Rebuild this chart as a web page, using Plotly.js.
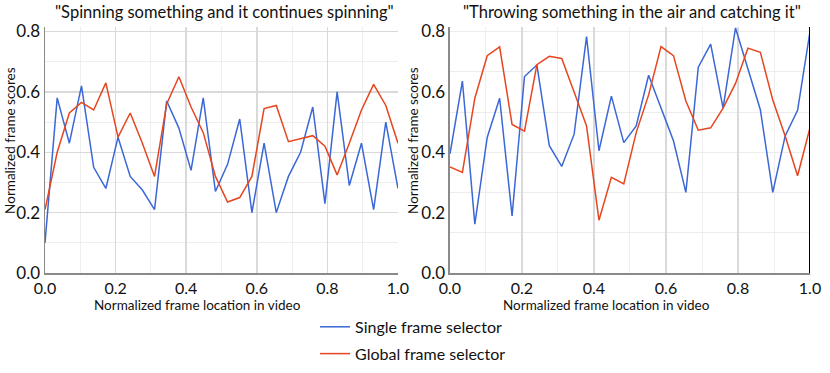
<!DOCTYPE html>
<html>
<head>
<meta charset="utf-8">
<script src="https://cdn.plot.ly/plotly-3.0.1.min.js"></script>
<style>
  html, body { margin: 0; padding: 0; background: #fff; }
  #chart { width: 830px; height: 373px; }
</style>
</head>
<body>
<div id="chart"></div>
<script>
// normalized frame positions (30 sampled frames)
const framePos = [0, 0.0345, 0.069, 0.1034, 0.1379, 0.1724, 0.2069, 0.2414, 0.2759, 0.3103,
                  0.3448, 0.3793, 0.4138, 0.4483, 0.4828, 0.5172, 0.5517, 0.5862, 0.6207, 0.6552,
                  0.6897, 0.7241, 0.7586, 0.7931, 0.8276, 0.8621, 0.8966, 0.931, 0.9655, 1];

// "Spinning something and it continues spinning"
const spinSingle = [0.10, 0.58, 0.43, 0.62, 0.35, 0.28, 0.45, 0.32, 0.275, 0.21,
                    0.57, 0.48, 0.34, 0.58, 0.27, 0.36, 0.51, 0.20, 0.43, 0.20,
                    0.32, 0.40, 0.55, 0.23, 0.60, 0.29, 0.43, 0.21, 0.50, 0.28];
const spinGlobal = [0.21, 0.40, 0.53, 0.565, 0.54, 0.63, 0.45, 0.53, 0.43, 0.32,
                    0.56, 0.65, 0.55, 0.465, 0.32, 0.235, 0.25, 0.32, 0.545, 0.555,
                    0.435, 0.445, 0.455, 0.42, 0.325, 0.43, 0.54, 0.625, 0.555, 0.43];

// "Throwing something in the air and catching it"
const throwSingle = [0.395, 0.636, 0.162, 0.449, 0.579, 0.189, 0.651, 0.689, 0.422, 0.353,
                     0.46, 0.783, 0.405, 0.586, 0.432, 0.487, 0.655, 0.546, 0.438, 0.267,
                     0.682, 0.758, 0.546, 0.812, 0.676, 0.541, 0.267, 0.454, 0.539, 0.80];
const throwGlobal = [0.351, 0.333, 0.579, 0.72, 0.749, 0.492, 0.47, 0.69, 0.718, 0.711,
                     0.60, 0.487, 0.175, 0.317, 0.295, 0.465, 0.59, 0.75, 0.72, 0.57,
                     0.473, 0.481, 0.546, 0.628, 0.745, 0.731, 0.573, 0.454, 0.322, 0.481];

const BLUE = '#3b68d6';
const RED = '#e6461f';
const FONT = 'Lato, "Open Sans", sans-serif';

const line = (y, name, color, xa, ya, show) => ({
  type: 'scatter', mode: 'lines',
  x: framePos, y: y, name: name,
  xaxis: xa, yaxis: ya,
  legendgroup: name, showlegend: show,
  line: { color: color, width: 1.5 },
});

const traces = [
  line(spinSingle, 'Single frame selector', BLUE, 'x', 'y', true),
  line(spinGlobal, 'Global frame selector', RED, 'x', 'y', true),
  line(throwSingle, 'Single frame selector', BLUE, 'x2', 'y2', false),
  line(throwGlobal, 'Global frame selector', RED, 'x2', 'y2', false),
];

const tickFont = { family: FONT, size: 17, color: '#111' };

const xBase = {
  range: [0, 1], tickvals: [0, 0.2, 0.4, 0.6, 0.8, 1], tickformat: '.1f',
  showgrid: true, gridcolor: '#d9d9d9', gridwidth: 1.5,
  minor: { dtick: 0.1, tick0: 0, showgrid: true, gridcolor: '#eeeeee', gridwidth: 1 },
  showline: true, linecolor: '#8a8a8a', linewidth: 1.5,
  zeroline: false, ticks: '', fixedrange: true,
  tickfont: { ...tickFont, size: 16 },
};
const yBase = {
  range: [0, 0.815], tickvals: [0, 0.2, 0.4, 0.6, 0.8], tickformat: '.1f',
  showline: true, linecolor: '#8a8a8a', linewidth: 1.5,
  zeroline: false, ticks: '', tickfont: tickFont, fixedrange: true,
};

const annFont = { family: FONT, size: 13.5, color: '#111' };
const titleFont = { family: FONT, size: 16.5, color: '#111' };
const ann = (text, x, y, font, extra) => ({
  text: text, xref: 'paper', yref: 'paper', x: x, y: y,
  xanchor: 'center', yanchor: 'middle', showarrow: false, font: font, ...extra,
});

const layout = {
  width: 830, height: 373,
  margin: { l: 45, r: 20, t: 27, b: 100, autoexpand: false },
  paper_bgcolor: '#fff', plot_bgcolor: '#fff',
  font: { family: FONT, color: '#111' },
  xaxis: { ...xBase, domain: [0, 0.4614], anchor: 'y' },
  yaxis: {
    ...yBase, anchor: 'x',
    showgrid: true, gridcolor: '#d9d9d9', gridwidth: 1.5,
    minor: { dtick: 0.1, tick0: 0, showgrid: true, gridcolor: '#eeeeee', gridwidth: 1 },
  },
  xaxis2: { ...xBase, domain: [0.5294, 1], anchor: 'y2' },
  yaxis2: {
    ...yBase, anchor: 'x2', showgrid: false,
    minor: { dtick: 0.8 / 6, tick0: 0, showgrid: true, gridcolor: '#ececec', gridwidth: 1 },
  },
  yaxis3: {
    range: [0, 0.815], anchor: 'x2', overlaying: 'y2',
    dtick: 1.6 / 6, tick0: 0, showgrid: true, gridcolor: '#d6d6d6', gridwidth: 1.5,
    showticklabels: false, zeroline: false, showline: false, ticks: '', fixedrange: true,
  },
  shapes: [{
    type: 'line', xref: 'x2', yref: 'y2 domain',
    x0: 1, x1: 1, y0: 0, y1: 1,
    line: { color: '#000', width: 2 },
  }],
  annotations: [
    ann('"Spinning something and it continues spinning"', 0.234, 1.061, titleFont),
    ann('"Throwing something in the air and catching it"', 0.767, 1.061, titleFont),
    ann('Normalized frame location in video', 0.1987, -0.129, annFont),
    ann('Normalized frame location in video', 0.7346, -0.129, annFont),
    ann('Normalized frame scores', -0.0458, 0.541, annFont, { textangle: -90 }),
    ann('Normalized frame scores', 0.481, 0.541, annFont, { textangle: -90 }),
  ],
  legend: {
    x: 0.353, y: -0.15, xanchor: 'left', yanchor: 'top',
    orientation: 'v', bgcolor: 'rgba(0,0,0,0)',
    font: { family: FONT, size: 16, color: '#111' },
    tracegroupgap: 3, itemwidth: 30,
  },
};

Plotly.newPlot('chart', traces, layout, { displayModeBar: false, staticPlot: true });
</script>
</body>
</html>
